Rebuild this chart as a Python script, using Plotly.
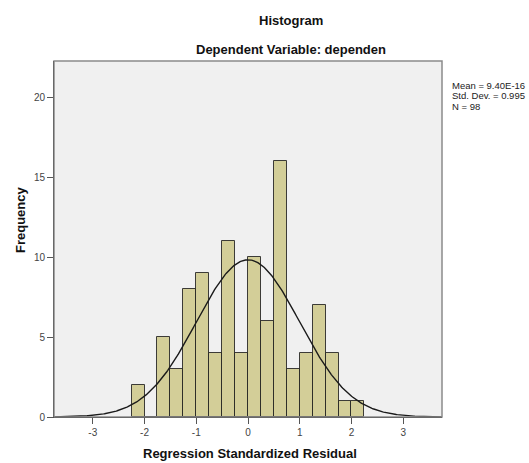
import numpy as np
import plotly.graph_objects as go

# Histogram bins (left edges, width 0.25) and frequencies
bin_starts = [-2.25, -2.0, -1.75, -1.5, -1.25, -1.0, -0.75, -0.5, -0.25,
              0.0, 0.25, 0.5, 0.75, 1.0, 1.25, 1.5, 1.75, 2.0]
frequencies = [2, 0, 5, 3, 8, 9, 4, 11, 4, 10, 6, 16, 3, 4, 7, 4, 1, 1]
bin_width = 0.25

# Summary statistics shown in the chart
mean_val = 9.40e-16
std_val = 0.995
n_val = 98
stat_lines = ["Mean = 9.40E-16", f"Std. Dev. = {std_val:.3f}", f"N = {n_val}"]

x_ticks = [-3, -2, -1, 0, 1, 2, 3]
y_ticks = [0, 5, 10, 15, 20]

centers = [b + bin_width / 2 for b in bin_starts]

# Normal curve implied by the statistics
xs = np.linspace(-3.75, 3.75, 400)
ys = n_val * bin_width * np.exp(-0.5 * ((xs - mean_val) / std_val) ** 2) / (std_val * np.sqrt(2 * np.pi))

FONT = "Liberation Sans, Arial, sans-serif"

L, T, R, B = 54, 61, 442, 417
W, H = 529, 463
PW, PH = R - L, B - T

fig = go.Figure()
fig.add_trace(go.Bar(
    x=centers, y=frequencies, width=bin_width,
    marker=dict(color="#D3CE98", line=dict(color="rgba(30,30,30,0.85)", width=1)),
    hoverinfo="x+y", showlegend=False,
))
fig.add_trace(go.Scatter(
    x=xs, y=ys, mode="lines",
    line=dict(color="#1a1a1a", width=1.4),
    showlegend=False, hoverinfo="skip",
))

annotations = [
    dict(text="<b>Histogram</b>", xref="paper", yref="paper", x=(291 - L) / PW, y=1,
         yshift=T - 20, showarrow=False, xanchor="center", yanchor="middle",
         font=dict(size=13, color="#111111")),
    dict(text="<b>Dependent Variable: dependen</b>", xref="paper", yref="paper", x=(291 - L) / PW, y=1,
         yshift=T - 49, showarrow=False, xanchor="center", yanchor="middle",
         font=dict(size=13, color="#111111")),
    dict(text="<b>Frequency</b>", xref="paper", yref="paper", x=0, y=(B - 220) / PH,
         xshift=-(L - 20), showarrow=False, xanchor="center", yanchor="middle", textangle=-90,
         font=dict(size=13, color="#111111")),
    dict(text="<b>Regression Standardized Residual</b>", xref="paper", yref="paper", x=(250 - L) / PW, y=0,
         yshift=-(453 - B), showarrow=False, xanchor="center", yanchor="middle",
         font=dict(size=13, color="#111111")),
]
for i, line in enumerate(stat_lines):
    annotations.append(dict(
        text=line, xref="paper", yref="paper", x=1, y=1,
        xshift=450 - R, yshift=T - (85 + 10.8 * i),
        showarrow=False, xanchor="left", yanchor="middle", align="left",
        font=dict(size=9.5, color="#222222")))

fig.update_layout(
    width=W, height=H,
    margin=dict(l=L, r=W - R, t=T, b=H - B, autoexpand=False),
    paper_bgcolor="white", plot_bgcolor="#F0F0F0",
    bargap=0,
    font=dict(family=FONT, size=10, color="#444444"),
    xaxis=dict(
        range=[-3.75, 3.75], tickvals=x_ticks, ticktext=[str(v) for v in x_ticks],
        showgrid=False, zeroline=False, showline=True, linecolor="black", linewidth=1,
        ticks="outside", ticklen=6, tickcolor="#555555", tickfont=dict(size=10, color="#444444"),
        automargin=False, fixedrange=True,
    ),
    yaxis=dict(
        range=[0, 22.25], tickvals=y_ticks, ticktext=[str(v) for v in y_ticks],
        showgrid=False, zeroline=False, showline=True, linecolor="black", linewidth=1,
        ticks="outside", ticklen=6, tickcolor="#555555", tickfont=dict(size=10, color="#444444"),
        automargin=False, fixedrange=True,
    ),
    shapes=[dict(type="rect", xref="paper", yref="paper", x0=0, x1=1, y0=0, y1=1,
                 line=dict(color="#8A8A8A", width=1.5), layer="above")],
    annotations=annotations,
)

fig.write_html("out.html", config={"displayModeBar": False},
               post_script="document.body.style.margin='0';document.body.style.overflow='hidden';")
